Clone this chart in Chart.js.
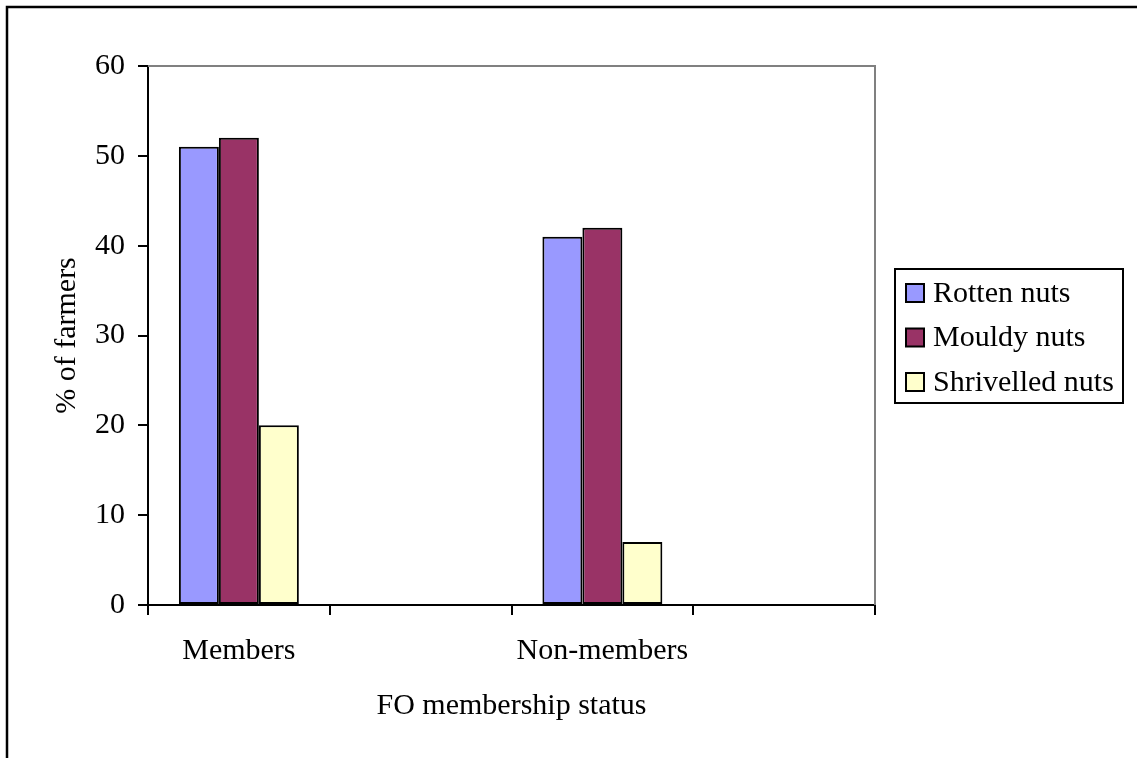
<!DOCTYPE html>
<html>
<head>
<meta charset="utf-8">
<script src="https://cdn.jsdelivr.net/npm/chart.js@4/dist/chart.umd.min.js"></script>
<style>
  html, body { margin: 0; padding: 0; background: #fff; }
  #wrap { width: 1137px; height: 758px; position: relative; }
</style>
</head>
<body>
<div id="wrap"><canvas id="c" width="1137" height="758"></canvas></div>
<script>
// Categories (blank slots keep the Excel-style spacing between groups)
const categories = ['Members', '', 'Non-members', ''];
const rottenNuts = [51, null, 41, null];
const mouldyNuts = [52, null, 42, null];
const shrivelledNuts = [20, null, 7, null];
const seriesNames = ['Rotten nuts', 'Mouldy nuts', 'Shrivelled nuts'];
const seriesColors = ['#9999FF', '#993366', '#FFFFCC'];
const yMin = 0, yMax = 60, yStep = 10;

const FONT = '"Liberation Serif", "Times New Roman", serif';

// Page frame, plot-area border and legend box
const decorations = {
  id: 'decorations',
  beforeDraw(chart) {
    const ctx = chart.ctx;
    ctx.save();
    ctx.fillStyle = '#fff';
    ctx.fillRect(0, 0, chart.width, chart.height);
    ctx.restore();
  },
  afterDraw(chart) {
    const ctx = chart.ctx;
    const a = chart.chartArea;
    ctx.save();
    // outer frame (top and left edges fall inside the page)
    ctx.strokeStyle = '#000';
    ctx.lineWidth = 2.5;
    ctx.beginPath();
    ctx.moveTo(7, chart.height + 5);
    ctx.lineTo(7, 7);
    ctx.lineTo(chart.width + 5, 7);
    ctx.stroke();

    // grey plot-area border on top and right
    ctx.strokeStyle = '#808080';
    ctx.lineWidth = 2;
    ctx.beginPath();
    ctx.moveTo(a.left, a.top);
    ctx.lineTo(a.right, a.top);
    ctx.lineTo(a.right, a.bottom);
    ctx.stroke();

    // legend
    const lx = 895, ly = 269, lw = 228, lh = 134;
    ctx.strokeStyle = '#000';
    ctx.lineWidth = 2;
    ctx.strokeRect(lx, ly, lw, lh);
    ctx.font = '30px ' + FONT;
    ctx.textBaseline = 'middle';
    ctx.textAlign = 'left';
    chart.data.datasets.forEach((ds, i) => {
      const cy = 293 + i * 44.5;
      ctx.fillStyle = ds.backgroundColor;
      ctx.fillRect(906, cy - 9, 18, 18);
      ctx.strokeStyle = '#000';
      ctx.lineWidth = 2;
      ctx.strokeRect(906, cy - 9, 18, 18);
      ctx.fillStyle = '#000';
      ctx.fillText(ds.label, 933, cy + 1);
    });
    ctx.restore();
  }
};

new Chart(document.getElementById('c'), {
  type: 'bar',
  data: {
    labels: categories,
    datasets: [
      { label: seriesNames[0], data: rottenNuts, backgroundColor: seriesColors[0] },
      { label: seriesNames[1], data: mouldyNuts, backgroundColor: seriesColors[1] },
      { label: seriesNames[2], data: shrivelledNuts, backgroundColor: seriesColors[2] }
    ].map(d => Object.assign(d, {
      borderColor: '#000',
      borderWidth: 2,
      borderSkipped: false,
      categoryPercentage: 0.66,
      barPercentage: 1.0
    }))
  },
  options: {
    responsive: false,
    animation: false,
    devicePixelRatio: 1,
    layout: { padding: { left: 0, top: 66, right: 262, bottom: 0 } },
    plugins: {
      legend: { display: false },
      tooltip: { enabled: false }
    },
    scales: {
      x: {
        offset: true,
        grid: {
          offset: true,
          drawOnChartArea: false,
          drawTicks: true,
          tickLength: 10,
          color: '#000',
          lineWidth: 2
        },
        border: { display: true, color: '#000', width: 2 },
        ticks: {
          color: '#000',
          font: { family: FONT, size: 30 },
          padding: 18,
          maxRotation: 0,
          autoSkip: false
        },
        title: {
          display: true,
          text: 'FO membership status',
          color: '#000',
          font: { family: FONT, size: 30 },
          padding: { top: 0, bottom: 34 }
        },
        afterFit(scale) { scale.height = 153; }
      },
      y: {
        min: yMin,
        max: yMax,
        ticks: {
          stepSize: yStep,
          color: '#000',
          font: { family: FONT, size: 30 },
          padding: 13
        },
        grid: {
          drawOnChartArea: false,
          drawTicks: true,
          tickLength: 10,
          color: '#000',
          lineWidth: 2
        },
        border: { display: true, color: '#000', width: 2 },
        title: {
          display: true,
          text: '% of farmers',
          color: '#000',
          font: { family: FONT, size: 30 },
          padding: { top: 49, bottom: 0 }
        },
        afterFit(scale) { scale.width = 148; }
      }
    }
  },
  plugins: [decorations]
});
</script>
</body>
</html>
